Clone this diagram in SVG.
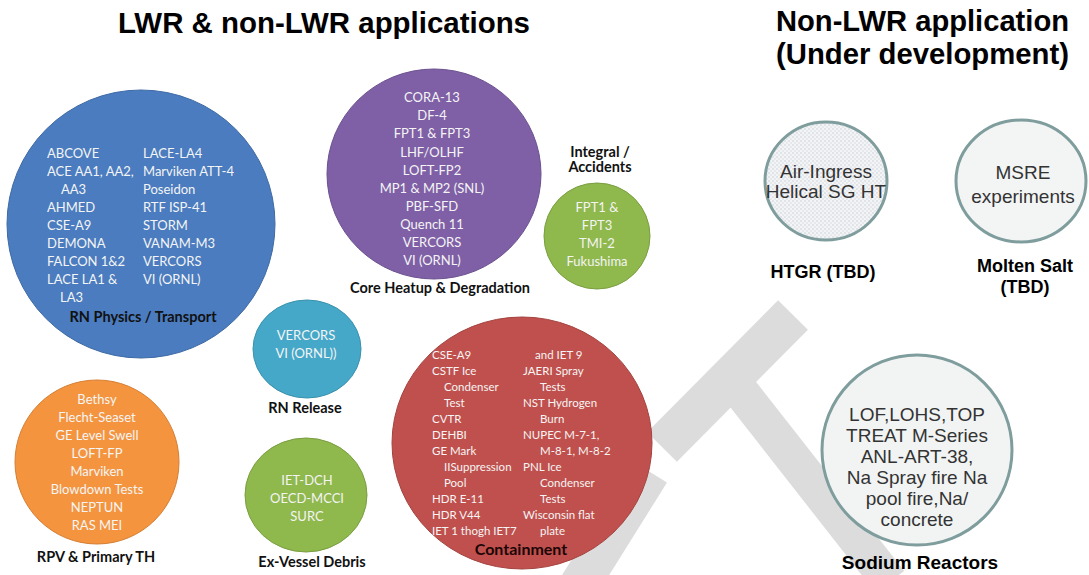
<svg xmlns="http://www.w3.org/2000/svg" width="1089" height="575" viewBox="0 0 1089 575">
<style>
.t{font-family:Lato,"Open Sans","Liberation Sans",sans-serif;font-size:13px;fill:#f4f4f4}
.tc{text-anchor:middle}
.lbl{font-family:Lato,"Open Sans","Liberation Sans",sans-serif;font-size:14.5px;font-weight:bold;fill:#111;text-anchor:middle}
.ttl{font-family:"Liberation Sans",Arial,sans-serif;font-size:30px;font-weight:bold;fill:#000}
.ar{font-family:"Liberation Sans",Arial,sans-serif;font-size:19px;fill:#333;text-anchor:middle}
.arb{font-family:"Liberation Sans",Arial,sans-serif;font-size:18px;font-weight:bold;fill:#000;text-anchor:middle}
.wm{stroke:#dcdcdc;fill:none}
.pale{stroke:#7f9d9d;stroke-width:3}
</style>
<defs>
<pattern id="dots" width="4" height="4" patternUnits="userSpaceOnUse">
<rect width="4" height="4" fill="#f3f4f6"/>
<circle cx="1" cy="1" r="0.8" fill="#c9ced4"/>
<circle cx="3" cy="3" r="0.8" fill="#d6dade"/>
</pattern>
</defs>
<rect width="1089" height="575" fill="#fff"/>

<g id="watermark">
<line class="wm" x1="793" y1="315" x2="662" y2="447" stroke-width="42"/>
<line class="wm" x1="650" y1="472" x2="575" y2="592" stroke-width="40"/>
<line class="wm" x1="738" y1="388" x2="890" y2="582" stroke-width="36"/>
</g>

<g id="titles">
<text class="ttl" x="118" y="33" textLength="412" lengthAdjust="spacingAndGlyphs">LWR &amp; non-LWR applications</text>
<text class="ttl" x="776" y="31" textLength="293" lengthAdjust="spacingAndGlyphs">Non-LWR application</text>
<text class="ttl" x="776" y="64" textLength="293" lengthAdjust="spacingAndGlyphs">(Under development)</text>
</g>

<g id="connectors"/>

<g id="rn-physics">
<circle cx="141" cy="224" r="134" fill="#4a7cbf" stroke="#3f6aa4" stroke-width="1"/>
<text class="t" x="47" y="158">ABCOVE</text>
<text class="t" x="47" y="176">ACE AA1, AA2,</text>
<text class="t" x="61" y="194">AA3</text>
<text class="t" x="47" y="212">AHMED</text>
<text class="t" x="47" y="230">CSE-A9</text>
<text class="t" x="47" y="248">DEMONA</text>
<text class="t" x="47" y="266">FALCON 1&amp;2</text>
<text class="t" x="47" y="284">LACE LA1 &amp;</text>
<text class="t" x="60" y="302">LA3</text>
<text class="t" x="143" y="158">LACE-LA4</text>
<text class="t" x="143" y="176">Marviken ATT-4</text>
<text class="t" x="143" y="194">Poseidon</text>
<text class="t" x="143" y="212">RTF ISP-41</text>
<text class="t" x="143" y="230">STORM</text>
<text class="t" x="143" y="248">VANAM-M3</text>
<text class="t" x="143" y="266">VERCORS</text>
<text class="t" x="143" y="284">VI (ORNL)</text>
<text class="lbl" x="143" y="322">RN Physics / Transport</text>
</g>

<g id="core-heatup">
<ellipse cx="434" cy="174" rx="107" ry="105" fill="#7f60a6" stroke="#6b508e" stroke-width="1"/>
<text class="t tc" x="432" y="102">CORA-13</text>
<text class="t tc" x="432" y="120">DF-4</text>
<text class="t tc" x="432" y="138">FPT1 &amp; FPT3</text>
<text class="t tc" x="432" y="157">LHF/OLHF</text>
<text class="t tc" x="432" y="175">LOFT-FP2</text>
<text class="t tc" x="432" y="193">MP1 &amp; MP2 (SNL)</text>
<text class="t tc" x="432" y="211">PBF-SFD</text>
<text class="t tc" x="432" y="229">Quench 11</text>
<text class="t tc" x="432" y="247">VERCORS</text>
<text class="t tc" x="432" y="265">VI (ORNL)</text>
<text class="lbl" x="440" y="293">Core Heatup &amp; Degradation</text>
</g>

<g id="integral">
<text class="lbl" x="600" y="157">Integral /</text>
<text class="lbl" x="600" y="172">Accidents</text>
<circle cx="597" cy="236" r="53" fill="#8fb84d" stroke="#7a9e40" stroke-width="1"/>
<text class="t tc" x="597" y="212">FPT1 &amp;</text>
<text class="t tc" x="597" y="230">FPT3</text>
<text class="t tc" x="597" y="248">TMI-2</text>
<text class="t tc" x="597" y="266">Fukushima</text>
</g>

<g id="rn-release">
<ellipse cx="307" cy="349" rx="54" ry="49" fill="#45a8c8" stroke="#3a91ad" stroke-width="1"/>
<text class="t tc" x="306" y="340">VERCORS</text>
<text class="t tc" x="306" y="358">VI (ORNL))</text>
<text class="lbl" x="305" y="413">RN Release</text>
</g>

<g id="ex-vessel">
<ellipse cx="306" cy="495" rx="61" ry="57" fill="#8fb84d" stroke="#7a9e40" stroke-width="1"/>
<text class="t tc" x="307" y="485">IET-DCH</text>
<text class="t tc" x="307" y="503">OECD-MCCI</text>
<text class="t tc" x="307" y="521">SURC</text>
<text class="lbl" x="312" y="567">Ex-Vessel Debris</text>
</g>

<g id="rpv">
<circle cx="97" cy="462" r="82" fill="#f4943f" stroke="#d47f34" stroke-width="1"/>
<text class="t tc" x="97" y="404">Bethsy</text>
<text class="t tc" x="97" y="422">Flecht-Seaset</text>
<text class="t tc" x="97" y="440">GE Level Swell</text>
<text class="t tc" x="97" y="458">LOFT-FP</text>
<text class="t tc" x="97" y="476">Marviken</text>
<text class="t tc" x="97" y="494">Blowdown Tests</text>
<text class="t tc" x="97" y="512">NEPTUN</text>
<text class="t tc" x="97" y="530">RAS MEI</text>
<text class="lbl" x="96" y="562">RPV &amp; Primary TH</text>
</g>

<g id="containment">
<ellipse cx="522" cy="443" rx="130" ry="126" fill="#c0504d" stroke="#a3433f" stroke-width="1"/>
<g class="t" style="font-size:11.5px">
<text x="432" y="359">CSE-A9</text>
<text x="432" y="375">CSTF Ice</text>
<text x="444" y="391">Condenser</text>
<text x="444" y="407">Test</text>
<text x="432" y="423">CVTR</text>
<text x="432" y="439">DEHBI</text>
<text x="432" y="455">GE Mark</text>
<text x="444" y="471">IISuppression</text>
<text x="444" y="487">Pool</text>
<text x="432" y="503">HDR E-11</text>
<text x="432" y="519">HDR V44</text>
<text x="432" y="535">IET 1 thogh IET7</text>
<text x="535" y="359">and IET 9</text>
<text x="523" y="375">JAERI Spray</text>
<text x="540" y="391">Tests</text>
<text x="523" y="407">NST Hydrogen</text>
<text x="540" y="423">Burn</text>
<text x="523" y="439">NUPEC M-7-1,</text>
<text x="540" y="455">M-8-1, M-8-2</text>
<text x="523" y="471">PNL Ice</text>
<text x="540" y="487">Condenser</text>
<text x="540" y="503">Tests</text>
<text x="523" y="519">Wisconsin flat</text>
<text x="540" y="535">plate</text>
</g>
<text class="lbl" x="521" y="555" style="font-size:16px;fill:#1a0606">Containment</text>
</g>

<g id="htgr">
<ellipse cx="826" cy="181" rx="61" ry="59" fill="url(#dots)" class="pale"/>
<text class="ar" x="826" y="178">Air-Ingress</text>
<text class="ar" x="826" y="198">Helical SG HT</text>
<text class="arb" x="823" y="278">HTGR (TBD)</text>
</g>

<g id="molten-salt">
<ellipse cx="1021" cy="181" rx="65" ry="61" fill="#f3f5f5" class="pale"/>
<text class="ar" x="1023" y="179">MSRE</text>
<text class="ar" x="1023" y="203">experiments</text>
<text class="arb" x="1025" y="272">Molten Salt</text>
<text class="arb" x="1025" y="293">(TBD)</text>
</g>

<g id="sodium">
<circle cx="917" cy="450" r="95" fill="#f2f4f4" class="pale"/>
<text class="ar" x="917" y="421">LOF,LOHS,TOP</text>
<text class="ar" x="917" y="442">TREAT M-Series</text>
<text class="ar" x="917" y="463">ANL-ART-38,</text>
<text class="ar" x="917" y="484">Na Spray fire Na</text>
<text class="ar" x="917" y="505">pool fire,Na/</text>
<text class="ar" x="917" y="526">concrete</text>
<text class="arb" x="920" y="569" style="font-size:19px">Sodium Reactors</text>
</g>
</svg>
